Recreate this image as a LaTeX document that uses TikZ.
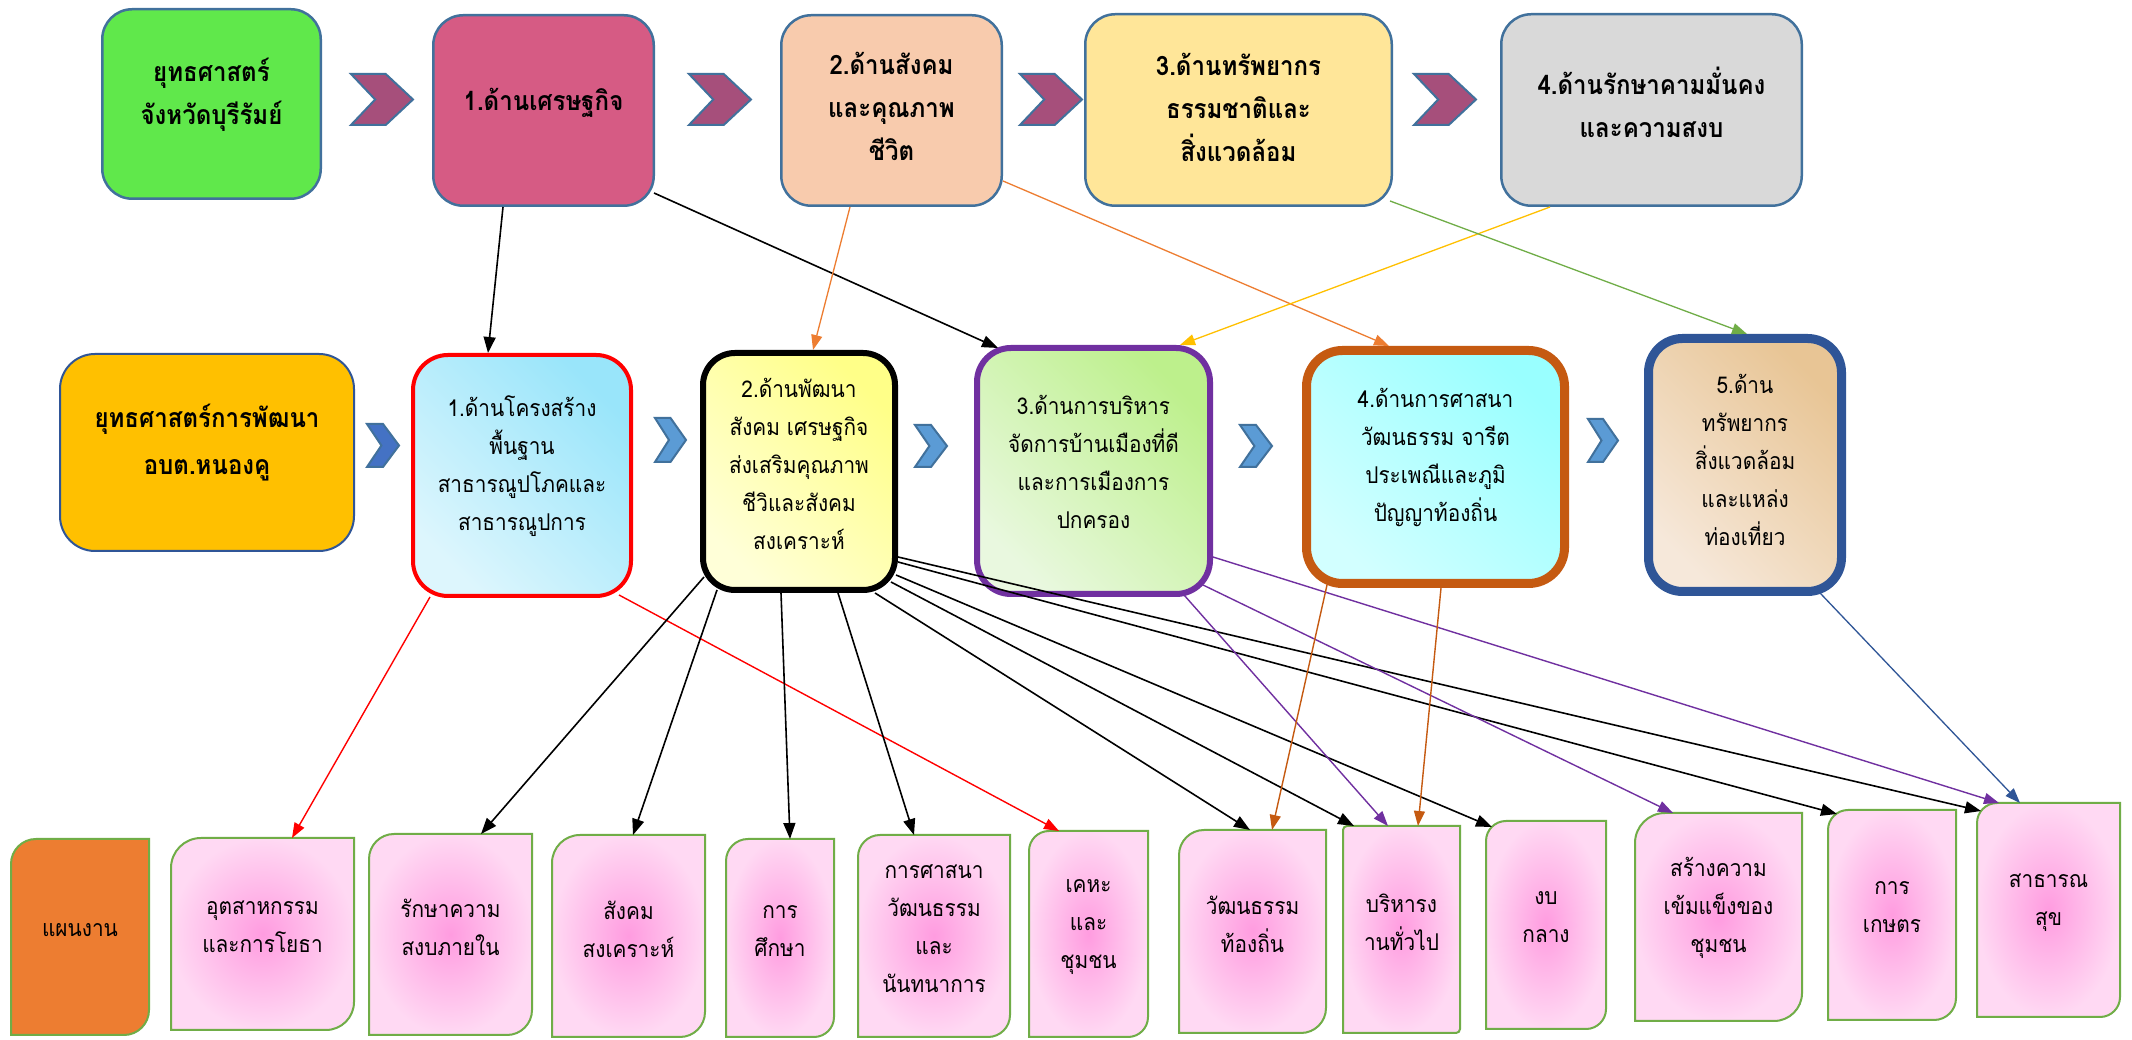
\documentclass[tikz,border=0pt]{standalone}
\usepackage{fontspec}
\newfontfamily\thai[Script=Thai,FakeStretch=0.9]{Loma}
\usetikzlibrary{arrows.meta,calc}
\definecolor{topline}{HTML}{41719C}
\definecolor{gfill}{HTML}{60E84B}
\definecolor{pfill}{HTML}{D65B84}
\definecolor{peach}{HTML}{F8CBAD}
\definecolor{yfill}{HTML}{FFE699}
\definecolor{grfill}{HTML}{D9D9D9}
\definecolor{chevtop}{HTML}{A64F7B}
\definecolor{chevdark}{HTML}{4472C4}
\definecolor{chevlight}{HTML}{5B9BD5}
\definecolor{ofill}{HTML}{FFC000}
\definecolor{navy}{HTML}{2F5597}
\definecolor{cyanA}{HTML}{99E5FA}
\definecolor{cyanB}{HTML}{DDF6FD}
\definecolor{yelA}{HTML}{FFFF88}
\definecolor{yelB}{HTML}{FFFFD8}
\definecolor{purl}{HTML}{7030A0}
\definecolor{grnA}{HTML}{BDF08C}
\definecolor{grnB}{HTML}{E9F8DF}
\definecolor{brown}{HTML}{C55A11}
\definecolor{aquaA}{HTML}{99FFFF}
\definecolor{aquaB}{HTML}{D2FFFF}
\definecolor{tanA}{HTML}{E8C595}
\definecolor{tanB}{HTML}{F6E8DA}
\definecolor{bgreen}{HTML}{70AD47}
\definecolor{pinkin}{HTML}{FF9CE0}
\definecolor{pinkout}{HTML}{FFD9F3}
\definecolor{orbox}{HTML}{ED7D31}
\definecolor{orline}{HTML}{ED7D31}
\definecolor{goldline}{HTML}{FFC000}
\definecolor{redline}{HTML}{FF0000}
\newcommand\chevr[7]{\filldraw[chevline,fill=#5] (#1,1040-#2) -- ({#1+#6*(#3-#1)},1040-#2) -- (#3,{1040-0.5*(#2+#4)}) -- ({#1+#6*(#3-#1)},1040-#4) -- (#1,1040-#4) -- ({#1+#7*(#3-#1)},{1040-0.5*(#2+#4)}) -- cycle;}
\newcommand\pinkshape[4]{\path[#4] (#1.south west) -- ([yshift=-#2]#1.north west) arc[start angle=180,end angle=90,radius=#2] -- (#1.north east) -- ([yshift=#3]#1.south east) arc[start angle=0,end angle=-90,radius=#3] -- cycle;}
\begin{document}
\begin{tikzpicture}[x=1pt,y=1pt,
  topbox/.style={draw=topline, line width=2.5pt, rounded corners=30pt, inner sep=0pt},
  midbox/.style={inner sep=0pt},
  botbox/.style={inner sep=0pt, outer sep=0pt, minimum width=#1},
  bshape/.style={draw=bgreen, line width=2pt, inner color=pinkin, outer color=pinkout},
  chevline/.style={draw=topline, line width=2pt, line join=miter},
  ttop/.style={font=\thai\bfseries\fontsize{26.7}{43}\selectfont, align=center, inner sep=0pt},
  tmA/.style={font=\thai\bfseries\fontsize{26.7}{47}\selectfont, align=center, inner sep=0pt},
  tmid/.style={font=\thai\fontsize{23.1}{38}\selectfont, align=center, inner sep=0pt},
  tbot/.style={font=\thai\fontsize{23.1}{38}\selectfont, align=center, inner sep=0pt},
  arr/.style={-{Triangle[length=16pt,width=12pt]}},
  blk/.style={arr, draw=black, line width=1.6pt},
  orl/.style={arr, draw=orline, line width=1.3pt, -{Triangle[length=15pt,width=11pt]}},
  yel/.style={arr, draw=goldline, line width=1.3pt, -{Triangle[length=15pt,width=11pt]}},
  grl/.style={arr, draw=bgreen, line width=1.3pt, -{Triangle[length=15pt,width=11pt]}},
  redl/.style={arr, draw=redline, line width=1.4pt, -{Triangle[length=15pt,width=11pt]}},
  pur/.style={arr, draw=purl, line width=1.4pt, -{Triangle[length=15pt,width=11pt]}},
  brn/.style={arr, draw=brown, line width=1.4pt, -{Triangle[length=15pt,width=11pt]}},
  blu/.style={arr, draw=navy, line width=1.3pt, -{Triangle[length=15pt,width=11pt]}}
]
\useasboundingbox (0,0) rectangle (2132,1040);
\fill[white] (0,0) rectangle (2132,1040);

% ---------- top row ----------
\node[topbox, fill=gfill, minimum width=218.5pt, minimum height=189.5pt] (g0) at (211.5,936) {};
\node[topbox, fill=pfill, minimum width=220.5pt, minimum height=190.5pt] (t1) at (543.5,929.5) {};
\node[topbox, fill=peach, minimum width=220.5pt, minimum height=190.5pt] (t2) at (891.5,929.5) {};
\node[topbox, fill=yfill, minimum width=306.5pt, minimum height=191.5pt] (t3) at (1238.5,930) {};
\node[topbox, fill=grfill, minimum width=300.5pt, minimum height=191.5pt] (t4) at (1651.5,930) {};
\node[ttop] (g0x) at ([yshift=9pt]g0.center) {ยุทธศาสตร์\\จังหวัดบุรีรัมย์};
\node[ttop] (t1x) at ([yshift=7.5pt]t1.center) {1.ด้านเศรษฐกิจ};
\node[ttop] (t2x) at ([yshift=4.5pt]t2.center) {2.ด้านสังคม\\และคุณภาพ\\ชีวิต};
\node[ttop] (t3x) at ([yshift=3pt]t3.center) {3.ด้านทรัพยากร\\ธรรมชาติและ\\สิ่งแวดล้อม};
\node[ttop] (t4x) at ([yshift=8pt]t4.center) {4.ด้านรักษาคามมั่นคง\\และความสงบ};
\chevr{351}{74}{413}{125}{chevtop}{0.56}{0.39}
\chevr{689}{74}{751}{125}{chevtop}{0.56}{0.39}
\chevr{1020}{74}{1082}{125}{chevtop}{0.56}{0.39}
\chevr{1414}{74}{1476}{125}{chevtop}{0.56}{0.39}

% ---------- middle row ----------
\node[midbox, draw=navy, line width=2pt, fill=ofill, rounded corners=35pt, minimum width=294pt, minimum height=197pt] (mA) at (207,587.5) {};
\node[midbox, draw=redline, line width=4pt, rounded corners=35pt, top color=cyanA, bottom color=cyanB, shading angle=-45, minimum width=218pt, minimum height=241pt] (m1) at (522,564.5) {};
\node[midbox, draw=black, line width=6pt, rounded corners=32pt, top color=yelA, bottom color=yelB, shading angle=-45, minimum width=192pt, minimum height=237pt] (m2) at (799,568.5) {};
\node[midbox, draw=purl, line width=6pt, rounded corners=34pt, top color=grnA, bottom color=grnB, shading angle=-45, minimum width=233pt, minimum height=246pt] (m3) at (1093.5,569) {};
\node[midbox, draw=brown, line width=9pt, rounded corners=36pt, top color=aquaA, bottom color=aquaB, shading angle=-45, minimum width=258pt, minimum height=233pt] (m4) at (1435.5,573) {};
\node[midbox, draw=navy, line width=9pt, rounded corners=34pt, top color=tanA, bottom color=tanB, shading angle=-45, minimum width=193pt, minimum height=253pt] (m5) at (1745,575) {};
\node[tmA] (mAx) at ([yshift=9.5pt]mA.center) {ยุทธศาสตร์การพัฒนา\\อบต.หนองคู};
\node[tmid] (m1x) at ([yshift=9.5pt]m1.center) {1.ด้านโครงสร้าง\\พื้นฐาน\\สาธารณูปโภคและ\\สาธารณูปการ};
\node[tmid] (m2x) at ([yshift=7.5pt]m2.center) {2.ด้านพัฒนา\\สังคม เศรษฐกิจ\\ส่งเสริมคุณภาพ\\ชีวิและสังคม\\สงเคราะห์};
\node[tmid] (m3x) at ([yshift=9pt]m3.center) {3.ด้านการบริหาร\\จัดการบ้านเมืองที่ดี\\และการเมืองการ\\ปกครอง};
\node[tmid] (m4x) at ([yshift=10pt]m4.center) {4.ด้านการศาสนา\\วัฒนธรรม จารีต\\ประเพณีและภูมิ\\ปัญญาท้องถิ่น};
\node[tmid] (m5x) at ([yshift=5pt]m5.center) {5.ด้าน\\ทรัพยากร\\สิ่งแวดล้อม\\และแหล่ง\\ท่องเที่ยว};
\chevr{367}{424}{399}{467}{chevdark}{0.5}{0.45}
\chevr{655}{418}{686}{462}{chevlight}{0.5}{0.45}
\chevr{915}{425}{947}{467}{chevlight}{0.5}{0.45}
\chevr{1240}{425}{1272}{467}{chevlight}{0.5}{0.45}
\chevr{1588}{419}{1618}{462}{chevlight}{0.5}{0.45}

% ---------- bottom row ----------
\node[botbox=138pt, minimum height=196pt] (b0) at (80,103) {};
\node[botbox=183pt, minimum height=192pt] (b1) at (262.5,106) {};
\node[botbox=163pt, minimum height=201pt] (b2) at (450.5,105.5) {};
\node[botbox=153pt, minimum height=202pt] (b3) at (628.5,104) {};
\node[botbox=108pt, minimum height=198pt] (b4) at (780,102) {};
\node[botbox=152pt, minimum height=202pt] (b5) at (934,104) {};
\node[botbox=119pt, minimum height=206pt] (b6) at (1088.5,106) {};
\node[botbox=147pt, minimum height=203pt] (b7) at (1252.5,108.5) {};
\node[botbox=117pt, minimum height=207pt] (b8) at (1401.5,110.5) {};
\node[botbox=120pt, minimum height=208pt] (b9) at (1546,115) {};
\node[botbox=167pt, minimum height=208pt] (b10) at (1718.5,123) {};
\node[botbox=128pt, minimum height=210pt] (b11) at (1892,125) {};
\node[botbox=143pt, minimum height=214pt] (b12) at (2048.5,130) {};
\pinkshape{b0}{25pt}{25pt}{draw=bgreen, line width=2pt, fill=orbox}
\pinkshape{b1}{30pt}{28pt}{bshape}
\pinkshape{b2}{25pt}{25pt}{bshape}
\pinkshape{b3}{28pt}{25pt}{bshape}
\pinkshape{b4}{22pt}{20pt}{bshape}
\pinkshape{b5}{22pt}{22pt}{bshape}
\pinkshape{b6}{20pt}{20pt}{bshape}
\pinkshape{b7}{25pt}{25pt}{bshape}
\pinkshape{b8}{4pt}{4pt}{bshape}
\pinkshape{b9}{20pt}{20pt}{bshape}
\pinkshape{b10}{30pt}{28pt}{bshape}
\pinkshape{b11}{20pt}{22pt}{bshape}
\pinkshape{b12}{20pt}{20pt}{bshape}
\node[tbot] (b0x) at ([yshift=7pt]b0.center) {แผนงาน};
\node[tbot] (b1x) at ([yshift=7pt]b1.center) {อุตสาหกรรม\\และการโยธา};
\node[tbot] (b2x) at ([yshift=7pt]b2.center) {รักษาความ\\สงบภายใน};
\node[tbot] (b3x) at ([yshift=7pt]b3.center) {สังคม\\สงเคราะห์};
\node[tbot] (b4x) at ([yshift=7pt]b4.center) {การ\\ศึกษา};
\node[tbot] (b5x) at ([yshift=7pt]b5.center) {การศาสนา\\วัฒนธรรม\\และ\\นันทนาการ};
\node[tbot] (b6x) at ([yshift=7pt]b6.center) {เคหะ\\และ\\ชุมชน};
\node[tbot] (b7x) at ([yshift=7.5pt]b7.center) {วัฒนธรรม\\ท้องถิ่น};
\node[tbot] (b8x) at ([yshift=7pt]b8.center) {บริหารง\\านทั่วไป};
\node[tbot] (b9x) at ([yshift=7.5pt]b9.center) {งบ\\กลาง};
\node[tbot] (b10x) at ([yshift=9pt]b10.center) {สร้างความ\\เข้มแข็งของ\\ชุมชน};
\node[tbot] (b11x) at ([yshift=7.5pt]b11.center) {การ\\เกษตร};
\node[tbot] (b12x) at ([yshift=7pt]b12.center) {สาธารณ\\สุข};

% ---------- connectors ----------
\draw[blk] ([xshift=-40.5pt]t1.south) -- ([xshift=-34pt]m1.north);
\draw[blk] ([xshift=-1pt,yshift=14pt]t1.south east) -- ([xshift=24pt,yshift=-3pt]m3.north west);
\draw[orl] ([xshift=-41.5pt]t2.south) -- ([xshift=14pt]m2.north);
\draw[orl] ([yshift=-70.5pt]t2.east) -- ([xshift=-46.5pt]m4.north);
\draw[yel] ([xshift=-101.5pt]t4.south) -- ([xshift=86.5pt]m3.north);
\draw[grl] ([xshift=-3pt,yshift=6pt]t3.south east) -- ([xshift=2pt]m5.north);
\draw[redl] ([xshift=19pt,yshift=1pt]m1.south west) -- ([xshift=29.5pt]b1.north);
\draw[redl] ([xshift=-14pt,yshift=3pt]m1.south east) -- ([xshift=-29.5pt]b6.north);
\draw[blk] ([xshift=4pt,yshift=16pt]m2.south west) -- ([xshift=30.5pt]b2.north);
\draw[blk] ([xshift=17pt,yshift=3pt]m2.south west) -- ([xshift=4.5pt]b3.north);
\draw[blk] ([xshift=-18pt]m2.south) -- ([xshift=10pt]b4.north);
\draw[blk] ([xshift=39pt]m2.south) -- ([xshift=-20pt]b5.north);
\draw[blk] ([xshift=-23pt]m2.south east) -- ([xshift=-2.5pt]b7.north);
\draw[blk] ([xshift=-7pt,yshift=11pt]m2.south east) -- ([xshift=-47.5pt]b8.north);
\draw[blk] ([xshift=-2pt,yshift=18pt]m2.south east) -- ([xshift=6pt,yshift=-6pt]b9.north west);
\draw[blk] ([yshift=31pt]m2.south east) -- ([xshift=9pt,yshift=-4pt]b11.north west);
\draw[blk] ([yshift=36pt]m2.south east) -- ([xshift=4pt,yshift=-8pt]b12.north west);
\draw[pur] ([xshift=-29pt,yshift=2pt]m3.south east) -- ([xshift=-13.5pt]b8.north);
\draw[pur] ([xshift=-10pt,yshift=12pt]m3.south east) -- ([xshift=-45.5pt]b10.north);
\draw[pur] ([yshift=40pt]m3.south east) -- ([xshift=-49.5pt]b12.north);
\draw[brn] ([xshift=25pt,yshift=3pt]m4.south west) -- ([xshift=19.5pt]b7.north);
\draw[brn] ([xshift=5.5pt]m4.south) -- ([xshift=16.5pt]b8.north);
\draw[blu] ([xshift=-26pt,yshift=3pt]m5.south east) -- ([xshift=-28.5pt]b12.north);
\end{tikzpicture}
\end{document}
